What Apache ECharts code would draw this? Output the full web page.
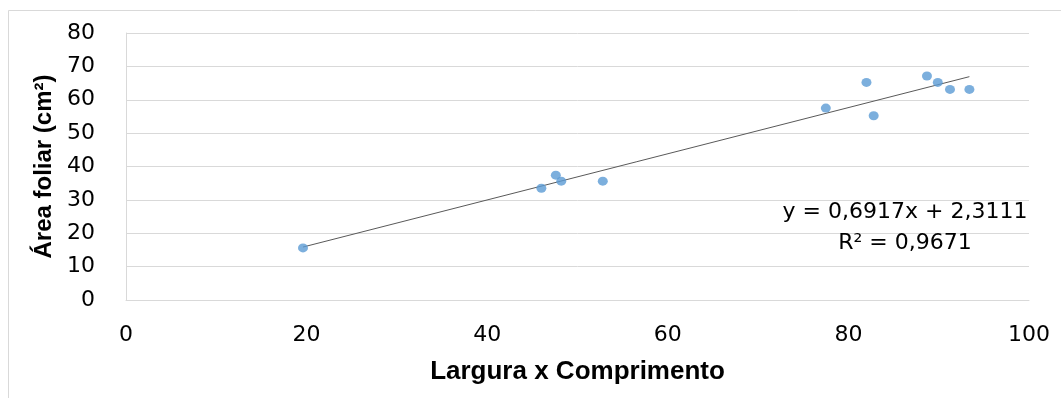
<!DOCTYPE html>
<html>
<head>
<meta charset="utf-8">
<script src="https://cdn.jsdelivr.net/npm/echarts@6/dist/echarts.min.js"></script>
<style>
html,body{margin:0;padding:0;background:#fff;}
#chart{width:1061px;height:398px;}
</style>
</head>
<body>
<div id="chart"></div>
<script>
// Data
var largura_x_comprimento = [19.6, 46.0, 47.6, 48.2, 52.8, 77.5, 82.0, 82.8, 88.7, 89.9, 91.25, 93.4];
var area_foliar = [15.6, 33.5, 37.4, 35.6, 35.6, 57.5, 65.2, 55.2, 67.1, 65.2, 63.1, 63.1];
// Trendline coefficients as printed on the chart
var slope = 0.6917;
var intercept = 2.3111;
var eqText = "y = 0,6917x + 2,3111";
var r2Text = "R² = 0,9671";
var xTicks = [0, 20, 40, 60, 80, 100];
var yTicks = [0, 10, 20, 30, 40, 50, 60, 70, 80];

var points = largura_x_comprimento.map(function (x, i) { return [x, area_foliar[i]]; });
var xMin = Math.min.apply(null, largura_x_comprimento);
var xMax = Math.max.apply(null, largura_x_comprimento);
var trend = [[xMin, slope * xMin + intercept], [xMax, slope * xMax + intercept]];

var chart = echarts.init(document.getElementById('chart'));
var tickFont = 'DejaVu Sans';
chart.setOption({
  animation: false,
  backgroundColor: '#ffffff',
  grid: { left: 126, top: 33, right: 32, bottom: 98 },
  xAxis: {
    type: 'value', min: 0, max: 100, interval: 20,
    name: 'Largura x Comprimento', nameLocation: 'middle', nameGap: 59,
    nameTextStyle: { fontFamily: 'Liberation Sans', fontWeight: 'bold', fontSize: 26, color: '#000' },
    axisLine: { show: true, lineStyle: { color: '#d9d9d9', width: 1 } },
    axisTick: { show: false },
    axisLabel: { fontFamily: tickFont, fontSize: 22, color: '#000', margin: 24 },
    splitLine: { show: false }
  },
  yAxis: {
    type: 'value', min: 0, max: 80, interval: 10,
    name: 'Área foliar (cm²)', nameLocation: 'middle', nameGap: 62, nameRotate: 90,
    nameTextStyle: { fontFamily: 'Liberation Sans', fontWeight: 'bold', fontSize: 24, color: '#000' },
    axisLine: { show: true, lineStyle: { color: '#d9d9d9', width: 1 } },
    axisTick: { show: false },
    axisLabel: { fontFamily: tickFont, fontSize: 22, color: '#000', margin: 31 },
    splitLine: { show: true, lineStyle: { color: '#d9d9d9', width: 1 } }
  },
  graphic: [
    { type: 'rect', silent: true, z: -10, shape: { x: 8.5, y: 10.5, width: 1200, height: 500 },
      style: { fill: 'none', stroke: '#d9d9d9', lineWidth: 1 } },
    { type: 'text', x: 905, y: 212, z: 10,
      style: { text: eqText, font: '22px "DejaVu Sans"', fill: '#000', align: 'center', verticalAlign: 'middle' } },
    { type: 'text', x: 905, y: 243, z: 10,
      style: { text: r2Text, font: '22px "DejaVu Sans"', fill: '#000', align: 'center', verticalAlign: 'middle' } }
  ],
  series: [
    { type: 'line', data: trend, showSymbol: false, symbol: 'none',
      lineStyle: { color: '#595959', width: 1 }, z: 2 },
    { type: 'scatter', data: points, symbol: 'circle', symbolSize: [10, 9],
      itemStyle: { color: '#5b9bd5' }, z: 3 }
  ]
});
</script>
</body>
</html>
